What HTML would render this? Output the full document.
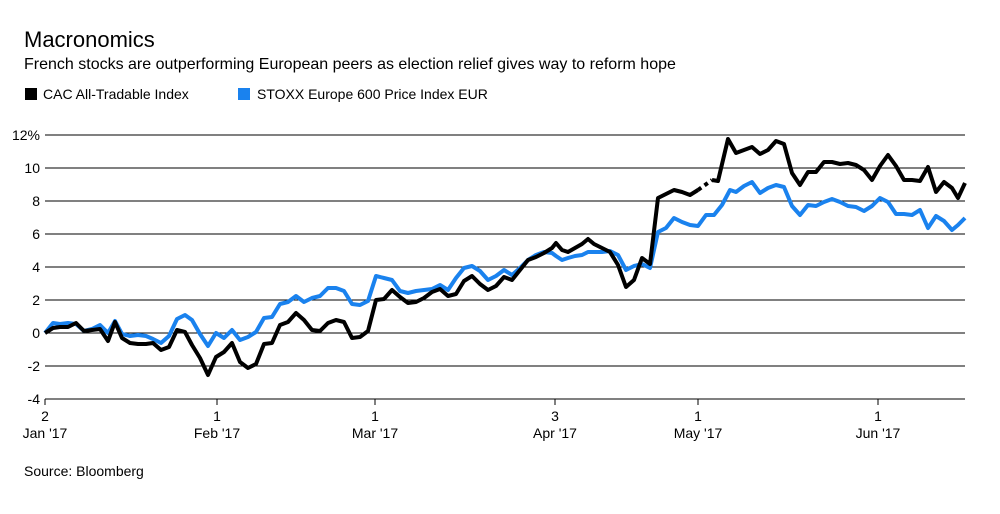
<!DOCTYPE html>
<html><head><meta charset="utf-8"><style>
body{margin:0;background:#fff;width:1000px;height:509px;overflow:hidden;font-family:"Liberation Sans",sans-serif;}
</style></head><body>
<svg width="1000" height="509" xmlns="http://www.w3.org/2000/svg" font-family="Liberation Sans, sans-serif">
<text x="24" y="47" font-size="22" fill="#000">Macronomics</text>
<text x="24" y="69" font-size="16" fill="#000">French stocks are outperforming European peers as election relief gives way to reform hope</text>
<rect x="25" y="88" width="12" height="12" fill="#000"/>
<text x="43" y="99" font-size="14">CAC All-Tradable Index</text>
<rect x="238" y="88" width="12" height="12" fill="#1a82ee"/>
<text x="257" y="99" font-size="14">STOXX Europe 600 Price Index EUR</text>
<g stroke="#000" stroke-width="1">
<line x1="45" y1="135" x2="965" y2="135"/><line x1="45" y1="168" x2="965" y2="168"/>
<line x1="45" y1="201" x2="965" y2="201"/><line x1="45" y1="234" x2="965" y2="234"/>
<line x1="45" y1="267" x2="965" y2="267"/><line x1="45" y1="300" x2="965" y2="300"/>
<line x1="45" y1="333" x2="965" y2="333"/><line x1="45" y1="366" x2="965" y2="366"/>
<line x1="45" y1="399" x2="965" y2="399"/>
<line x1="45" y1="399" x2="45" y2="405"/><line x1="217" y1="399" x2="217" y2="405"/>
<line x1="375" y1="399" x2="375" y2="405"/><line x1="555" y1="399" x2="555" y2="405"/>
<line x1="698" y1="399" x2="698" y2="405"/><line x1="878" y1="399" x2="878" y2="405"/>
</g>
<g font-size="14" text-anchor="end">
<text x="40" y="140">12%</text><text x="40" y="173">10</text><text x="40" y="206">8</text>
<text x="40" y="239">6</text><text x="40" y="272">4</text><text x="40" y="305">2</text>
<text x="40" y="338">0</text><text x="40" y="371">-2</text><text x="40" y="404">-4</text>
</g>
<g font-size="14" text-anchor="middle">
<text x="45" y="421">2</text><text x="45" y="438">Jan '17</text>
<text x="217" y="421">1</text><text x="217" y="438">Feb '17</text>
<text x="375" y="421">1</text><text x="375" y="438">Mar '17</text>
<text x="555" y="421">3</text><text x="555" y="438">Apr '17</text>
<text x="698" y="421">1</text><text x="698" y="438">May '17</text>
<text x="878" y="421">1</text><text x="878" y="438">Jun '17</text>
</g>
<text x="24" y="476" font-size="14">Source: Bloomberg</text>
<polyline fill="none" stroke="#1a82ee" stroke-width="4" stroke-linejoin="round" points="45,333 53,323 60,324 68,323 76,324 84,331 92,329 100,325 108,333 115,321 122,334 130,336 138,335 146,336 153,339 161,343 169,336 177,319 185,315 192,320 200,334 208,346 216,333 224,338 232,330 240,340 248,337 256,332 264,318 272,317 280,304 288,302 296,296 304,302 312,298 320,296 328,288 336,288 344,291 352,304 360,305 368,301 376,276 384,278 392,280 400,291 408,293 416,291 424,290 432,289 440,285 448,290 456,278 464,268 472,266 480,271 488,280 496,276 504,270 512,275 520,268 528,260 536,255 544,252 552,253 556,256 562,260 568,258 575,256 582,255 588,252 594,252 602,252 610,251 618,255 626,270 634,266 642,264 650,268 658,232 666,228 674,218 682,222 690,225 698,226 706,215 714,215 722,205 730,190 736,192 744,186 752,182 760,193 768,188 776,185 784,187 792,206 800,215 808,205 816,206 824,202 832,199 840,202 848,206 856,207 864,211 872,206 880,198 888,202 896,214 904,214 912,215 920,210 928,228 936,216 944,221 952,230 958,225 965,218"/>
<polyline fill="none" stroke="#000" stroke-width="4" stroke-linejoin="round" points="45,333 53,328 60,327 68,327 76,323 84,331 92,330 100,329 108,341 115,322 122,338 130,343 138,344 146,344 153,343 161,350 169,347 177,330 185,332 192,345 200,358 208,375 216,357 224,352 232,343 240,362 248,368 256,364 264,344 272,343 280,325 288,322 296,313 304,320 312,330 320,331 328,323 336,320 344,322 352,338 360,337 368,331 376,300 384,299 392,290 400,297 408,303 416,302 424,298 432,292 440,289 448,296 456,294 464,281 472,276 480,284 488,290 496,286 504,277 512,280 520,270 528,260 536,257 544,253 552,248 556,243 562,250 568,252 575,248 582,244 588,239 594,244 602,248 610,252 618,265 626,287 634,280 642,258 650,264 658,198 666,194 674,190 682,192 690,195 698,190"/>
<polyline fill="none" stroke="#000" stroke-width="4" stroke-dasharray="4,4" points="698,190 712,180"/>
<polyline fill="none" stroke="#000" stroke-width="4" stroke-linejoin="round" points="712,180 718,181 728,139 736,153 744,150 752,147 760,154 768,150 776,141 784,144 792,173 800,185 808,172 816,172 824,162 832,162 840,164 848,163 856,165 864,170 872,180 880,166 888,155 896,166 904,180 912,180 920,181 928,167 936,192 944,182 952,188 958,198 965,183"/>
</svg>
</body></html>
